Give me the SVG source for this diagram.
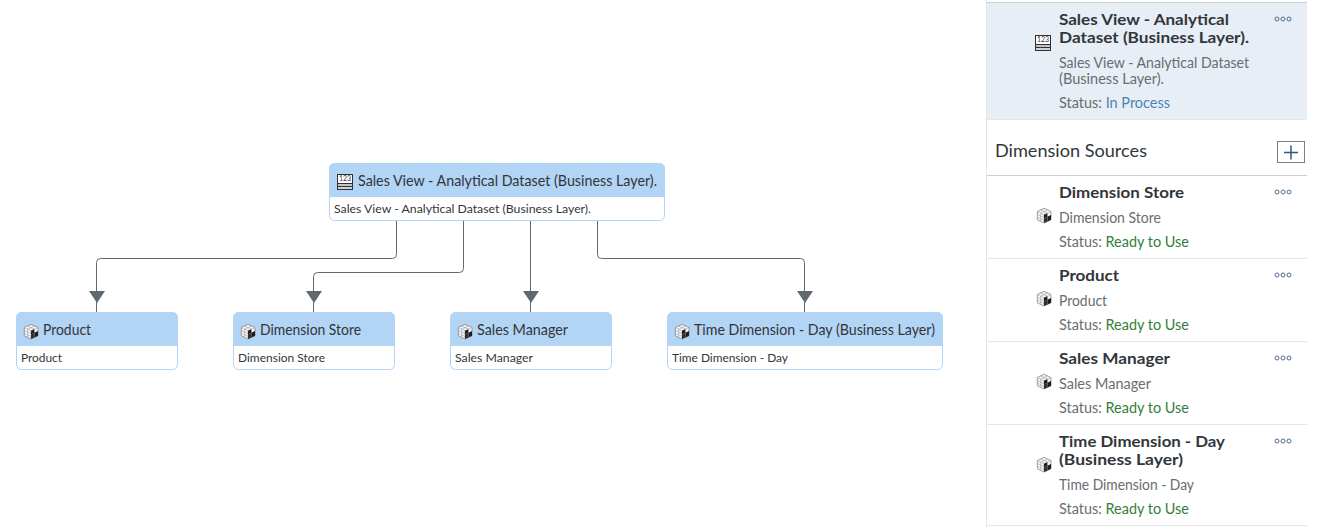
<svg xmlns="http://www.w3.org/2000/svg" width="1341" height="527" viewBox="0 0 1341 527">
<style>
text{font-family:"Lato","Noto Sans","Liberation Sans",sans-serif}
.hd{fill:#b2d4f5}
.bd{fill:#fff;stroke:#b2d4f5;stroke-width:1}
.t{font-size:15px;fill:#32363a}
.s{font-size:12px;fill:#32363a}
.c{fill:none;stroke:#5f6a6f;stroke-width:1}
.ti{font-size:16px;font-weight:700;fill:#32363a}
.sb{font-size:14.5px;fill:#6a6d70}
.ok{fill:#33803a}
.pr{fill:#4d84b3}
.sep{stroke:#e5e5e5;stroke-width:1;fill:none}
.sep2{stroke:#cfcfcf;stroke-width:1;fill:none}
.dot{fill:none;stroke:#4f6d94;stroke-width:1}
</style>
<defs>
<path id="arr" d="M-8 0H8L0 12Z" fill="#5f6a6f"/>
<g id="cube">
<path d="M7 0.300L14 3.500V11.800L7 15L0.300 11.800V3.500Z" fill="#f6f6f8" stroke="#85858d" stroke-width=".8"/>
<path d="M0.300 3.500L7 6.800L14 3.500M7 6.800V15M3.700 2L10.400 5.200M10.400 2L3.700 5.200M0.300 6.400L7 9.600M0.300 9.200L7 12.400M3.700 5.200V13.400" fill="none" stroke="#9c9ca6" stroke-width=".6"/>
<path d="M7 6.800L10.400 5.200V8.800L7 10.400ZM10.400 8.800L14 7V11.800L10.400 13.400Z" fill="#1c1c1c"/>
<path d="M7 10.400L10.400 8.800V13.400L7 15Z" fill="#2e2e2e"/>
</g>
<g id="table">
<rect x=".5" y=".5" width="15" height="15" fill="#fff" stroke="#2c3034"/>
<path d="M1 9.500H15M1 12.500H15" stroke="#2c3034" stroke-width="1" fill="none"/>
<path d="M5.500 9.500V15" stroke="#555" stroke-width=".8" fill="none"/>
<rect x="1" y="10" width="14" height="2" fill="#c4c4c4"/>
<rect x="1" y="13" width="14" height="2" fill="#d2d2d2"/>
<text x="8" y="7.200" text-anchor="middle" style="font-size:7px;fill:#32363a">123</text>
</g>
<g id="more"><circle cx="2.500" cy="2.500" r="2" class="dot"/><circle cx="8.500" cy="2.500" r="2" class="dot"/><circle cx="14.500" cy="2.500" r="2" class="dot"/></g>
</defs>
<rect width="1341" height="527" fill="#fff"/>

<g id="connectors">
<path class="c" d="M396.500 221V254.500Q396.500 258.500 392.500 258.500H100.500Q96.500 258.500 96.500 262.500V312"/>
<path class="c" d="M463.500 221V268.500Q463.500 272.500 459.500 272.500H317.500Q313.500 272.500 313.500 276.500V312"/>
<path class="c" d="M530.500 221V312"/>
<path class="c" d="M597.500 221V254.500Q597.500 258.500 601.500 258.500H800.500Q804.500 258.500 804.500 262.500V312"/>
<use href="#arr" x="97" y="291"/>
<use href="#arr" x="314" y="291"/>
<use href="#arr" x="531" y="291"/>
<use href="#arr" x="805" y="291"/>
</g>

<g id="node-sales-view">
<rect class="bd" x="329.500" y="163.500" width="335" height="57" rx="5"/>
<path class="hd" d="M329 197V168.500a5 5 0 0 1 5-5H660a5 5 0 0 1 5 5V197Z"/>
<use href="#table" x="337" y="174"/>
<text class="t" x="358" y="186" textLength="299" lengthAdjust="spacingAndGlyphs">Sales View - Analytical Dataset (Business Layer).</text>
<text class="s" x="334" y="213" textLength="257" lengthAdjust="spacingAndGlyphs">Sales View - Analytical Dataset (Business Layer).</text>
</g>
<g id="node-product">
<rect class="bd" x="16.500" y="312.500" width="161" height="57" rx="5"/>
<path class="hd" d="M16 346V317.500a5 5 0 0 1 5-5H173a5 5 0 0 1 5 5V346Z"/>
<use href="#cube" x="24" y="324"/>
<text class="t" x="43" y="335" textLength="48" lengthAdjust="spacingAndGlyphs">Product</text>
<text class="s" x="21" y="362" textLength="41" lengthAdjust="spacingAndGlyphs">Product</text>
</g>
<g id="node-dimension-store">
<rect class="bd" x="233.500" y="312.500" width="161" height="57" rx="5"/>
<path class="hd" d="M233 346V317.500a5 5 0 0 1 5-5H390a5 5 0 0 1 5 5V346Z"/>
<use href="#cube" x="241" y="324"/>
<text class="t" x="260" y="335" textLength="101" lengthAdjust="spacingAndGlyphs">Dimension Store</text>
<text class="s" x="238" y="362" textLength="87" lengthAdjust="spacingAndGlyphs">Dimension Store</text>
</g>
<g id="node-sales-manager">
<rect class="bd" x="450.500" y="312.500" width="161" height="57" rx="5"/>
<path class="hd" d="M450 346V317.500a5 5 0 0 1 5-5H607a5 5 0 0 1 5 5V346Z"/>
<use href="#cube" x="458" y="324"/>
<text class="t" x="477" y="335" textLength="91" lengthAdjust="spacingAndGlyphs">Sales Manager</text>
<text class="s" x="455" y="362" textLength="78" lengthAdjust="spacingAndGlyphs">Sales Manager</text>
</g>
<g id="node-time-dimension">
<rect class="bd" x="667.500" y="312.500" width="275" height="57" rx="5"/>
<path class="hd" d="M667 346V317.500a5 5 0 0 1 5-5H938a5 5 0 0 1 5 5V346Z"/>
<use href="#cube" x="675" y="324"/>
<text class="t" x="694" y="335" textLength="241" lengthAdjust="spacingAndGlyphs">Time Dimension - Day (Business Layer)</text>
<text class="s" x="672" y="362" textLength="116" lengthAdjust="spacingAndGlyphs">Time Dimension - Day</text>
</g>

<g id="panel">
<rect x="987" y="3" width="320" height="116" fill="#e7eef6"/>
<path class="sep" d="M986.500 0V527"/>
<path class="sep2" d="M986 2.500H1307M987 175.500H1307"/>
<path class="sep" d="M987 119.500H1307M987 258.500H1307M987 341.500H1307M987 424.500H1307M987 525.500H1307"/>
</g>
<g id="item-sales-view">
<use href="#table" x="1035" y="35"/>
<text class="ti" x="1059" y="25" textLength="170" lengthAdjust="spacingAndGlyphs">Sales View - Analytical</text>
<text class="ti" x="1059" y="43" textLength="190" lengthAdjust="spacingAndGlyphs">Dataset (Business Layer).</text>
<text class="sb" x="1059" y="68" textLength="190" lengthAdjust="spacingAndGlyphs">Sales View - Analytical Dataset</text>
<text class="sb" x="1059" y="84" textLength="105" lengthAdjust="spacingAndGlyphs">(Business Layer).</text>
<text class="sb" x="1059" y="108" textLength="111" lengthAdjust="spacingAndGlyphs">Status: <tspan class="pr">In Process</tspan></text>
<use href="#more" x="1274.500" y="16.500"/>
</g>
<g id="dimension-sources">
<text x="995" y="157" style="font-size:18px;fill:#32363a" textLength="152" lengthAdjust="spacingAndGlyphs">Dimension Sources</text>
<rect x="1277.500" y="141.500" width="27" height="21" fill="none" stroke="#000" stroke-dasharray="1 1"/>
<path d="M1284 152.500H1298M1291 145.500V159.500" stroke="#34587c" stroke-width="1.500" fill="none"/>
</g>
<g id="item-dimension-store">
<use href="#cube" x="1037" y="208"/>
<text class="ti" x="1059" y="198" textLength="125" lengthAdjust="spacingAndGlyphs">Dimension Store</text>
<text class="sb" x="1059" y="223" textLength="102" lengthAdjust="spacingAndGlyphs">Dimension Store</text>
<text class="sb" x="1059" y="247" textLength="130" lengthAdjust="spacingAndGlyphs">Status: <tspan class="ok">Ready to Use</tspan></text>
<use href="#more" x="1274.500" y="189.500"/>
</g>
<g id="item-product">
<use href="#cube" x="1037" y="291"/>
<text class="ti" x="1059" y="281" textLength="60" lengthAdjust="spacingAndGlyphs">Product</text>
<text class="sb" x="1059" y="306" textLength="48" lengthAdjust="spacingAndGlyphs">Product</text>
<text class="sb" x="1059" y="330" textLength="130" lengthAdjust="spacingAndGlyphs">Status: <tspan class="ok">Ready to Use</tspan></text>
<use href="#more" x="1274.500" y="272.500"/>
</g>
<g id="item-sales-manager">
<use href="#cube" x="1037" y="374"/>
<text class="ti" x="1059" y="364" textLength="111" lengthAdjust="spacingAndGlyphs">Sales Manager</text>
<text class="sb" x="1059" y="389" textLength="92" lengthAdjust="spacingAndGlyphs">Sales Manager</text>
<text class="sb" x="1059" y="413" textLength="130" lengthAdjust="spacingAndGlyphs">Status: <tspan class="ok">Ready to Use</tspan></text>
<use href="#more" x="1274.500" y="355.500"/>
</g>
<g id="item-time-dimension">
<use href="#cube" x="1037" y="457"/>
<text class="ti" x="1059" y="447" textLength="166" lengthAdjust="spacingAndGlyphs">Time Dimension - Day</text>
<text class="ti" x="1059" y="465" textLength="124" lengthAdjust="spacingAndGlyphs">(Business Layer)</text>
<text class="sb" x="1059" y="490" textLength="135" lengthAdjust="spacingAndGlyphs">Time Dimension - Day</text>
<text class="sb" x="1059" y="514" textLength="130" lengthAdjust="spacingAndGlyphs">Status: <tspan class="ok">Ready to Use</tspan></text>
<use href="#more" x="1274.500" y="438.500"/>
</g>
</svg>
